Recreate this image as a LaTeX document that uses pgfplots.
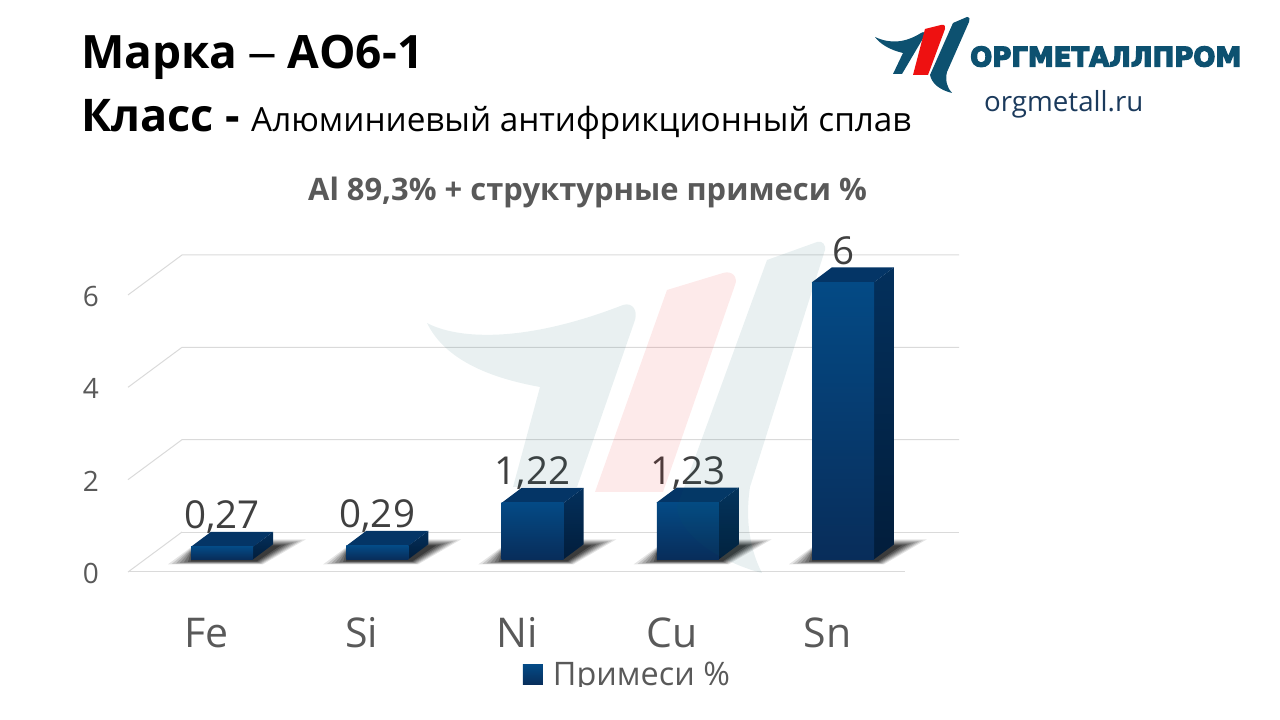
\documentclass[border=0pt]{standalone}
\usepackage{fontspec}
\setmainfont{Open Sans}
\usepackage{graphicx}
\usepackage{pgfplots}
\pgfplotsset{compat=1.18}
\definecolor{frontT}{HTML}{044A85}
\definecolor{frontB}{HTML}{082D5A}
\definecolor{sideT}{HTML}{03305C}
\definecolor{sideB}{HTML}{021D3B}
\definecolor{topF}{HTML}{043566}
\definecolor{gridc}{HTML}{DADADA}
\definecolor{txt}{HTML}{595959}
\definecolor{lab}{HTML}{404040}
\definecolor{logoB}{HTML}{0D5170}
\definecolor{logoW}{HTML}{0B5E68}
\definecolor{logoR}{HTML}{EE1111}
\definecolor{urlc}{HTML}{1B3A5C}
\pgfplotsset{frontbar/.style={ybar, bar width=62pt, bar shift=0pt, draw=none, top color=frontT, bottom color=frontB,
  nodes near coords={\pgfmathprintnumber[fixed, use comma, precision=2, assume math mode=true]{\pgfplotspointmeta}},
  every node near coord/.style={font=\fontsize{38.5}{38.5}\selectfont, text=lab, anchor=base, inner sep=0pt, yshift=18pt},
  legend image code/.code={\fill[top color=frontT, bottom color=frontB, draw=none] (0pt,-10pt) rectangle (20pt,10pt);},
}}
\begin{document}
\begin{tikzpicture}[x=1pt,y=1pt]
\useasboundingbox (0,0) rectangle (1280,720);
\begin{axis}[
  at={(128pt,148pt)}, anchor=south west, scale only axis,
  width=831pt, height=342pt,
  xmin=-0.6055, xmax=4.747, ymin=-0.275, ymax=7.132,
  clip=false,
  axis line style={draw=none},
  major tick length=0pt,
  xtick={0,1,2,3,4},
  xticklabels={Fe,Si,Ni,Cu,Sn},
  ytick={0,2,4,6},
  yticklabel style={font=\fontsize{28}{28}\selectfont, text=txt, anchor=east, inner sep=0pt, xshift=-29pt, yshift=-14pt,
     /pgf/number format/assume math mode=true},
  xticklabel style={font=\fontsize{41}{41}\selectfont, text=txt, anchor=base, inner sep=0pt, xshift=-15.5pt, yshift=-76pt},
  legend style={at={(0.601,-0.301)}, anchor=center, draw=none, fill=none,
    font=\fontsize{32.4}{32.4}\selectfont, text=txt, inner sep=0pt, /tikz/every odd column/.style={column sep=8pt}},
  legend cell align=left,
]
% grid: back wall and floor
\addplot[gridc, line width=1pt, forget plot] coordinates {(-0.6055,-0.275)(-0.2577,0.591)};
\addplot[gridc, line width=1pt, forget plot] coordinates {(-0.2577,0.591)(4.747,0.591)};
\addplot[gridc, line width=1pt, forget plot] coordinates {(-0.6055,-0.275)(4.399,-0.275)};
\addplot[gridc, line width=1pt, forget plot] coordinates {(-0.6055,1.725)(-0.2577,2.591)(4.747,2.591)};
\addplot[gridc, line width=1pt, forget plot] coordinates {(-0.6055,3.725)(-0.2577,4.591)(4.747,4.591)};
\addplot[gridc, line width=1pt, forget plot] coordinates {(-0.6055,5.725)(-0.2577,6.591)(4.747,6.591)};
% shadows
\pgfplotsinvokeforeach{0,1,2,3,4}{
  \begin{scope}[shift={(axis cs:#1-0.2,0)}, x=1pt, y=1pt]
    \fill[black, opacity=0.10] (-23,-5) -- (72,-5) -- (115,20) -- (60,20) -- (0,12) -- cycle;
    \fill[black, opacity=0.13] (-19,-4.5) -- (71,-4.5) -- (111,19) -- (60,19) -- (0,11) -- cycle;
    \fill[black, opacity=0.15] (-15,-4) -- (70,-4) -- (107,18) -- (60,18) -- (0,10) -- cycle;
    \fill[black, opacity=0.17] (-11,-3.5) -- (69,-3.5) -- (103,17) -- (60,17) -- (0,9) -- cycle;
    \fill[black, opacity=0.20] (-7,-3) -- (68,-3) -- (99,16) -- (60,16) -- (0,8) -- cycle;
    \fill[black, opacity=0.25] (-3,-2.5) -- (67,-2.5) -- (95,15) -- (60,15) -- (0,7) -- cycle;
    \fill[black, opacity=0.30] (0,-2) -- (66,-2) -- (90,14) -- (60,14) -- (0,6) -- cycle;
  \end{scope}
}
% side faces
\addplot[draw=none, top color=sideT, bottom color=sideB, forget plot] coordinates {(0.2,0)(0.329,0.325)(0.329,0.595)(0.2,0.27)} --cycle;
\addplot[draw=none, top color=sideT, bottom color=sideB, forget plot] coordinates {(1.2,0)(1.329,0.325)(1.329,0.615)(1.2,0.29)} --cycle;
\addplot[draw=none, top color=sideT, bottom color=sideB, forget plot] coordinates {(2.2,0)(2.329,0.325)(2.329,1.545)(2.2,1.22)} --cycle;
\addplot[draw=none, top color=sideT, bottom color=sideB, forget plot] coordinates {(3.2,0)(3.329,0.325)(3.329,1.555)(3.2,1.23)} --cycle;
\addplot[draw=none, top color=sideT, bottom color=sideB, forget plot] coordinates {(4.2,0)(4.329,0.325)(4.329,6.325)(4.2,6)} --cycle;
% top faces
\addplot[draw=none, fill=topF, forget plot] coordinates {(-0.2,0.27)(-0.071,0.595)(0.329,0.595)(0.2,0.27)} --cycle;
\addplot[draw=none, fill=topF, forget plot] coordinates {(0.8,0.29)(0.929,0.615)(1.329,0.615)(1.2,0.29)} --cycle;
\addplot[draw=none, fill=topF, forget plot] coordinates {(1.8,1.22)(1.929,1.545)(2.329,1.545)(2.2,1.22)} --cycle;
\addplot[draw=none, fill=topF, forget plot] coordinates {(2.8,1.23)(2.929,1.555)(3.329,1.555)(3.2,1.23)} --cycle;
\addplot[draw=none, fill=topF, forget plot] coordinates {(3.8,6)(3.929,6.325)(4.329,6.325)(4.2,6)} --cycle;
% front faces
\addplot[frontbar] coordinates {(0,0.27)};
\addplot[frontbar, forget plot] coordinates {(1,0.29)};
\addplot[frontbar, forget plot] coordinates {(2,1.22)};
\addplot[frontbar, forget plot] coordinates {(3,1.23)};
\addplot[frontbar, forget plot] coordinates {(4,6)};
\legend{Примеси \%}
\end{axis}
% clipped legend text
\fill[white] (500,0) rectangle (780,32.5);
\begin{scope}[x=1pt,y=-1pt,shift={(0pt,720pt)}]
 % watermark
 \fill[logoW,opacity=0.09] (427,323) .. controls (455,338) and (520,345) .. (623,305)
     .. controls (632,302) and (638,310) .. (635,320)
     -- (577,487) -- (513,487) -- (540,387)
     .. controls (490,378) and (445,360) .. cycle;
 \fill[logoR,opacity=0.09] (667,290) -- (723,273) .. controls (733,270) and (738,278) .. (735,285) -- (663,492) -- (595,492) -- cycle;
 \fill[logoW,opacity=0.09] (767,260) -- (817,242) .. controls (823,240) and (826,246) .. (825,250) -- (750,487)
     .. controls (745,520) and (750,550) .. (762,573) .. controls (730,565) and (680,540) .. (677,507) -- cycle;
 % logo
 \fill[logoB] (875,37) .. controls (890,44) and (905,43) .. (921,33) .. controls (924,31) and (926,33) .. (925,35)
    -- (902,74) -- (893,74) -- (903,53) .. controls (890,50) and (880,44) .. cycle;
 \fill[logoR] (925,29) -- (941,25) .. controls (945,24) and (946,27) .. (945,29) -- (928,75) -- (913,75) -- cycle;
 \fill[logoB] (953,23) -- (967,17) .. controls (970,17) and (970,20) .. (969,22) -- (947,72)
    .. controls (945,80) and (947,88) .. (952,93) .. controls (940,90) and (932,84) .. (930,75) -- cycle;
 \node[anchor=south west, inner sep=0pt, text=logoB] at (970,67) {\resizebox{271pt}{20pt}{\fontspec[FakeBold=5]{DejaVu Sans Bold}ОРГМЕТАЛЛПРОМ}};
 \node[anchor=base west, inner sep=0pt, text=urlc, font=\fontsize{27.7}{27.7}\selectfont] at (984,112) {orgmetall.ru};
 % titles
 \node[anchor=base west, inner sep=0pt, font=\fontsize{46}{46}\selectfont\bfseries] at (81,69) {Марка\hspace{10pt}\scalebox{1.3}[1]{\mdseries –}\hspace{10pt}АО6-1};
 \node[anchor=base west, inner sep=0pt, font=\fontsize{45}{45}\selectfont\bfseries] at (81,132) {Класс -};
 \node[anchor=base west, inner sep=0pt, font=\fontsize{33.3}{33.3}\selectfont] at (251,132) {Алюминиевый антифрикционный сплав};
 \node[anchor=base west, inner sep=0pt, text=txt, font=\fontsize{30.9}{30.9}\selectfont\bfseries] at (308,201) {Al 89,3\% + структурные примеси \%};
\end{scope}
\end{tikzpicture}
\end{document}
